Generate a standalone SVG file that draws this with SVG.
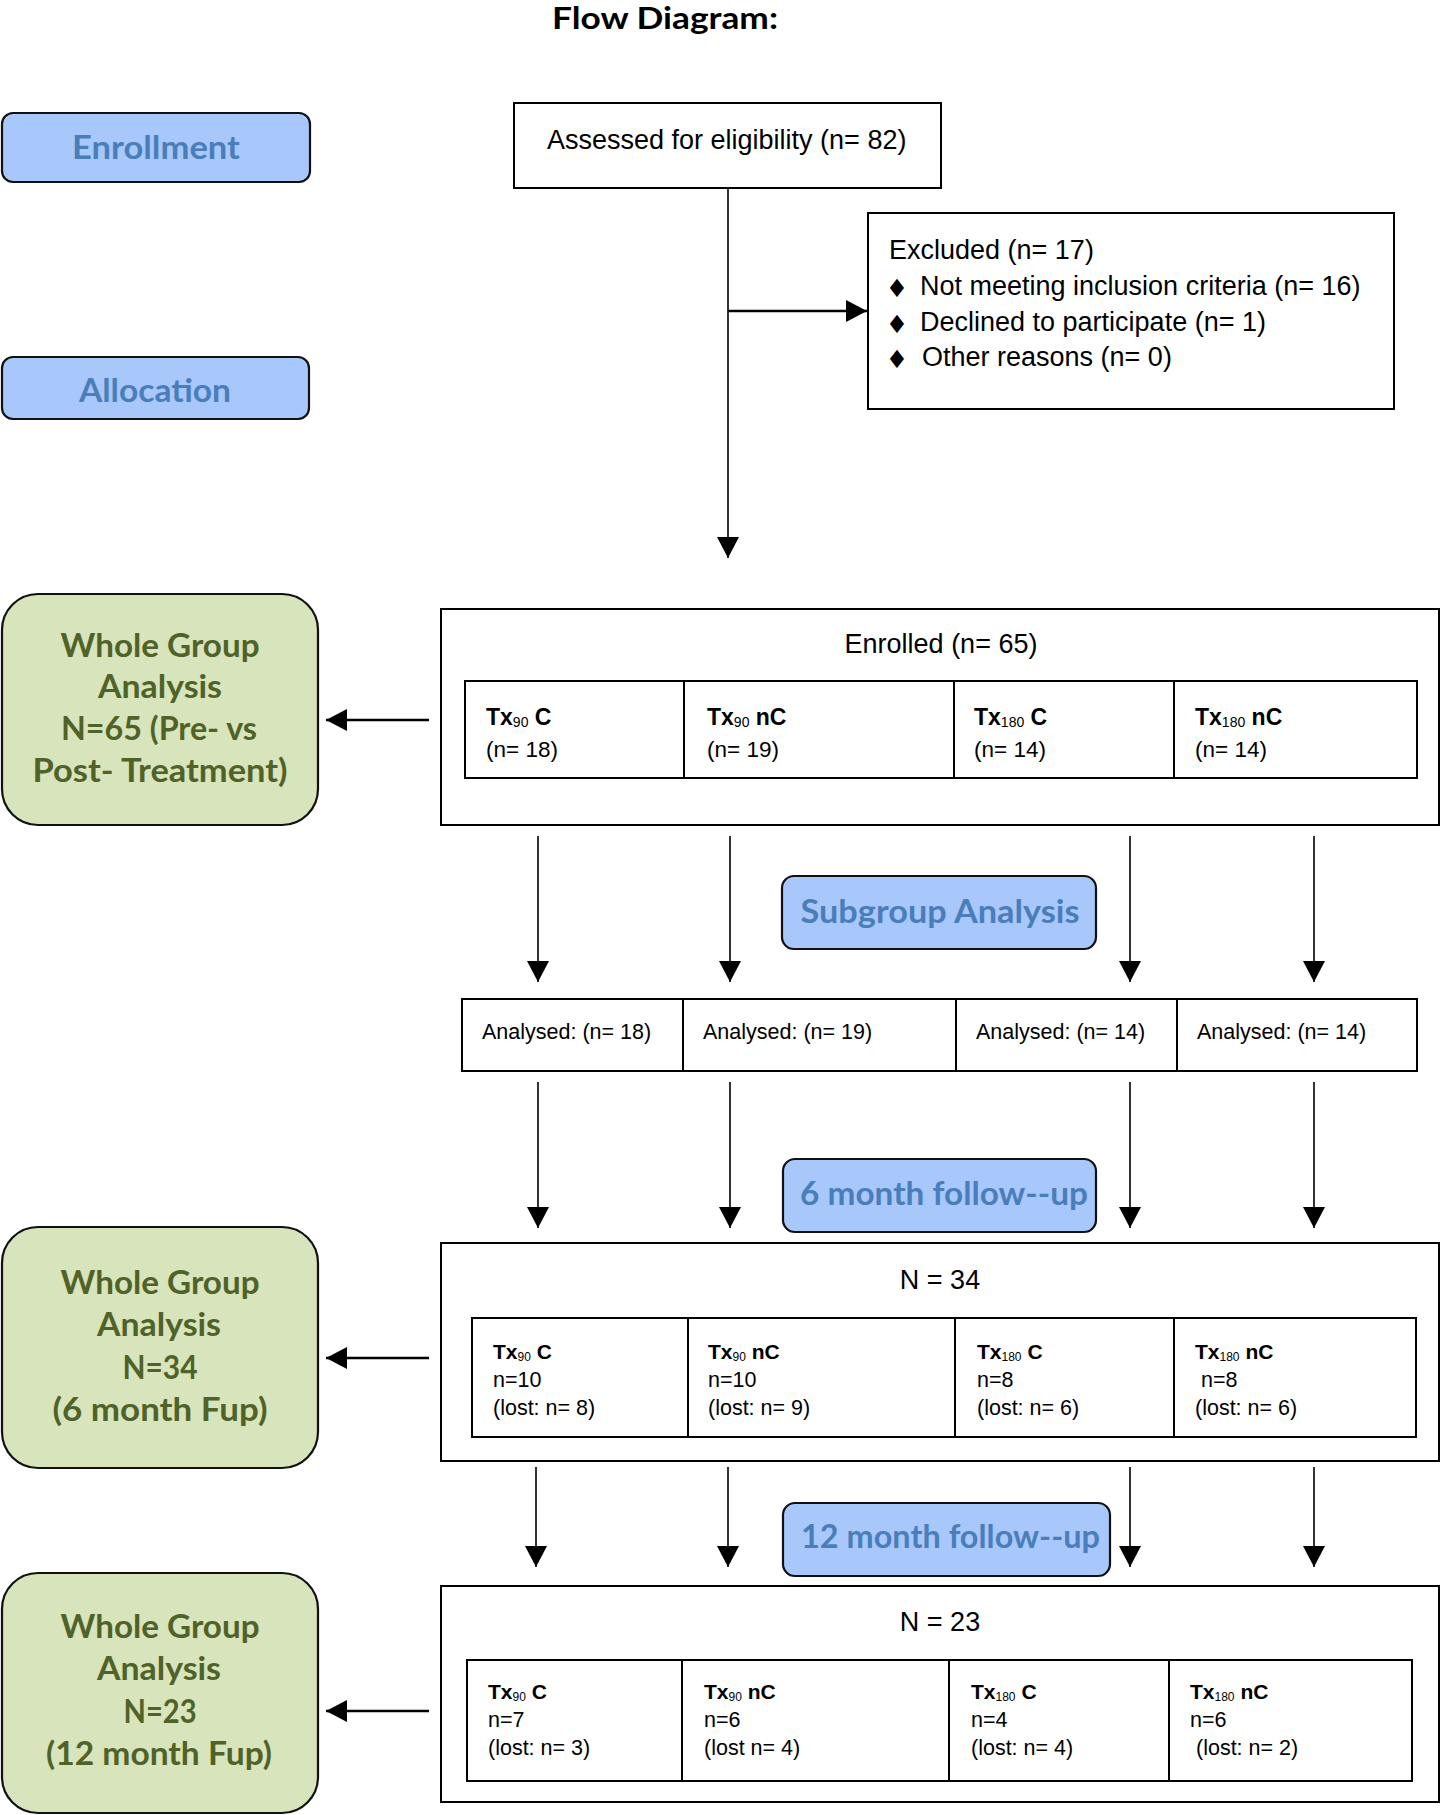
<svg xmlns="http://www.w3.org/2000/svg" width="1441" height="1815" viewBox="0 0 1441 1815">
<defs>
<marker id="ah" viewBox="0 0 21 22" refX="21" refY="11" markerWidth="21" markerHeight="22" markerUnits="userSpaceOnUse" orient="auto">
<path d="M0,0 L21,11 L0,22 z" fill="#000"/>
</marker>
<style>
.cal{font-family:Lato,"Open Sans","Noto Sans",sans-serif;font-weight:bold}
.bt{fill:#4a7ebb;font-size:32px}
.gt{fill:#4f6228;font-size:32px;text-anchor:middle}
.bbox{fill:#a8c7fa;stroke:#111;stroke-width:2.2}
.gbox{fill:#d8e4bc;stroke:#111;stroke-width:2.2}
.box{fill:#fff;stroke:#000;stroke-width:2}
.cell{fill:none;stroke:#000;stroke-width:2}
.ar{font-family:"Liberation Sans",Arial,sans-serif;fill:#000}
.big{font-size:27px}
.mid{font-size:22.5px}
.sm{font-size:21.5px}
.hd{font-weight:bold}
.sub{font-size:14px}
.dia{font-family:"DejaVu Sans",sans-serif;font-size:25px;text-anchor:middle;fill:#000}
.con{stroke:#000;stroke-width:1.6;fill:none}
.thick{stroke-width:2.6}
</style>
</defs>
<rect width="1441" height="1815" fill="#fff"/>

<text class="cal" x="665" y="29" font-size="31" fill="#000" text-anchor="middle" textLength="226" lengthAdjust="spacingAndGlyphs">Flow Diagram:</text>

<g id="enrollment">
<rect class="bbox" x="2" y="113" width="308" height="69" rx="11"/>
<text class="cal bt" x="156" y="159" text-anchor="middle" textLength="168" lengthAdjust="spacingAndGlyphs">Enrollment</text>
</g>
<g id="allocation">
<rect class="bbox" x="2" y="357" width="307" height="62" rx="11"/>
<text class="cal bt" x="155" y="402" text-anchor="middle" textLength="152" lengthAdjust="spacingAndGlyphs">Allocation</text>
</g>

<g id="assessed">
<rect class="box" x="514" y="103" width="427" height="85"/>
<text class="ar big" x="547" y="149">Assessed for eligibility (n= 82)</text>
</g>

<g id="excluded">
<rect class="box" x="868" y="213" width="526" height="196"/>
<text class="ar big" x="889" y="259">Excluded (n= 17)</text>
<text class="ar big" x="920" y="295">Not meeting inclusion criteria (n= 16)</text>
<text class="ar big" x="920" y="331">Declined to participate (n= 1)</text>
<text class="ar big" x="922" y="366">Other reasons (n= 0)</text>
<text class="dia" x="897" y="297">♦</text>
<text class="dia" x="897" y="333">♦</text>
<text class="dia" x="897" y="368">♦</text>
</g>

<g id="wg1">
<rect class="gbox" x="2" y="594" width="316" height="231" rx="36"/>
<text class="cal gt" x="160" y="657" textLength="199" lengthAdjust="spacingAndGlyphs">Whole Group</text>
<text class="cal gt" x="160" y="698" textLength="124" lengthAdjust="spacingAndGlyphs">Analysis</text>
<text class="cal gt" x="159" y="740" textLength="196" lengthAdjust="spacingAndGlyphs">N=65 (Pre- vs</text>
<text class="cal gt" x="160" y="782" textLength="255" lengthAdjust="spacingAndGlyphs">Post- Treatment)</text>
</g>

<g id="enrolled">
<rect class="box" x="441" y="609" width="998" height="216"/>
<text class="ar big" x="941" y="653" text-anchor="middle">Enrolled (n= 65)</text>
<rect class="cell" x="465" y="681" width="952" height="97"/>
<line class="cell" x1="684" y1="681" x2="684" y2="778"/>
<line class="cell" x1="954" y1="681" x2="954" y2="778"/>
<line class="cell" x1="1174" y1="681" x2="1174" y2="778"/>
<text class="ar hd" font-size="23" x="486" y="725">Tx<tspan class="sub" font-weight="normal" dy="2">90</tspan><tspan dy="-2"> C</tspan></text>
<text class="ar mid" x="486" y="757">(n= 18)</text>
<text class="ar hd" font-size="23" x="707" y="725">Tx<tspan class="sub" font-weight="normal" dy="2">90</tspan><tspan dy="-2"> nC</tspan></text>
<text class="ar mid" x="707" y="757">(n= 19)</text>
<text class="ar hd" font-size="23" x="974" y="725">Tx<tspan class="sub" font-weight="normal" dy="2">180</tspan><tspan dy="-2"> C</tspan></text>
<text class="ar mid" x="974" y="757">(n= 14)</text>
<text class="ar hd" font-size="23" x="1195" y="725">Tx<tspan class="sub" font-weight="normal" dy="2">180</tspan><tspan dy="-2"> nC</tspan></text>
<text class="ar mid" x="1195" y="757">(n= 14)</text>
</g>

<g id="subgroup">
<rect class="bbox" x="782" y="876" width="314" height="73" rx="12"/>
<text class="cal bt" x="940" y="923" text-anchor="middle" textLength="279" lengthAdjust="spacingAndGlyphs">Subgroup Analysis</text>
</g>

<g id="analysed">
<rect class="cell" x="462" y="999" width="955" height="72" fill="#fff"/>
<line class="cell" x1="683" y1="999" x2="683" y2="1071"/>
<line class="cell" x1="956" y1="999" x2="956" y2="1071"/>
<line class="cell" x1="1177" y1="999" x2="1177" y2="1071"/>
<text class="ar sm" x="482" y="1039">Analysed: (n= 18)</text>
<text class="ar sm" x="703" y="1039">Analysed: (n= 19)</text>
<text class="ar sm" x="976" y="1039">Analysed: (n= 14)</text>
<text class="ar sm" x="1197" y="1039">Analysed: (n= 14)</text>
</g>

<g id="fup6">
<rect class="bbox" x="783" y="1159" width="313" height="73" rx="12"/>
<text class="cal bt" x="800" y="1205" textLength="288" lengthAdjust="spacingAndGlyphs">6 month follow--up</text>
</g>

<g id="wg2">
<rect class="gbox" x="2" y="1227" width="316" height="241" rx="36"/>
<text class="cal gt" x="160" y="1294" textLength="199" lengthAdjust="spacingAndGlyphs">Whole Group</text>
<text class="cal gt" x="159" y="1336" textLength="124" lengthAdjust="spacingAndGlyphs">Analysis</text>
<text class="cal gt" x="160" y="1379" textLength="75" lengthAdjust="spacingAndGlyphs">N=34</text>
<text class="cal gt" x="160" y="1421" textLength="215" lengthAdjust="spacingAndGlyphs">(6 month Fup)</text>
</g>

<g id="n34">
<rect class="box" x="441" y="1243" width="998" height="218"/>
<text class="ar big" x="940" y="1289" text-anchor="middle">N = 34</text>
<rect class="cell" x="472" y="1318" width="944" height="119"/>
<line class="cell" x1="688" y1="1318" x2="688" y2="1437"/>
<line class="cell" x1="955" y1="1318" x2="955" y2="1437"/>
<line class="cell" x1="1174" y1="1318" x2="1174" y2="1437"/>
<text class="ar hd" font-size="21" x="493" y="1359">Tx<tspan font-size="12" font-weight="normal" dy="2">90</tspan><tspan dy="-2"> C</tspan></text>
<text class="ar sm" x="493" y="1387">n=10</text>
<text class="ar sm" x="493" y="1415">(lost: n= 8)</text>
<text class="ar hd" font-size="21" x="708" y="1359">Tx<tspan font-size="12" font-weight="normal" dy="2">90</tspan><tspan dy="-2"> nC</tspan></text>
<text class="ar sm" x="708" y="1387">n=10</text>
<text class="ar sm" x="708" y="1415">(lost: n= 9)</text>
<text class="ar hd" font-size="21" x="977" y="1359">Tx<tspan font-size="12" font-weight="normal" dy="2">180</tspan><tspan dy="-2"> C</tspan></text>
<text class="ar sm" x="977" y="1387">n=8</text>
<text class="ar sm" x="977" y="1415">(lost: n= 6)</text>
<text class="ar hd" font-size="21" x="1195" y="1359">Tx<tspan font-size="12" font-weight="normal" dy="2">180</tspan><tspan dy="-2"> nC</tspan></text>
<text class="ar sm" x="1201" y="1387">n=8</text>
<text class="ar sm" x="1195" y="1415">(lost: n= 6)</text>
</g>

<g id="fup12">
<rect class="bbox" x="783" y="1503" width="327" height="73" rx="12"/>
<text class="cal bt" x="801" y="1548" textLength="299" lengthAdjust="spacingAndGlyphs">12 month follow--up</text>
</g>

<g id="wg3">
<rect class="gbox" x="2" y="1573" width="316" height="240" rx="36"/>
<text class="cal gt" x="160" y="1638" textLength="199" lengthAdjust="spacingAndGlyphs">Whole Group</text>
<text class="cal gt" x="159" y="1680" textLength="124" lengthAdjust="spacingAndGlyphs">Analysis</text>
<text class="cal gt" x="160" y="1723" textLength="73" lengthAdjust="spacingAndGlyphs">N=23</text>
<text class="cal gt" x="159" y="1765" textLength="226" lengthAdjust="spacingAndGlyphs">(12 month Fup)</text>
</g>

<g id="n23">
<rect class="box" x="441" y="1586" width="998" height="216"/>
<text class="ar big" x="940" y="1631" text-anchor="middle">N = 23</text>
<rect class="cell" x="467" y="1660" width="945" height="121"/>
<line class="cell" x1="682" y1="1660" x2="682" y2="1781"/>
<line class="cell" x1="949" y1="1660" x2="949" y2="1781"/>
<line class="cell" x1="1169" y1="1660" x2="1169" y2="1781"/>
<text class="ar hd" font-size="21" x="488" y="1699">Tx<tspan font-size="12" font-weight="normal" dy="2">90</tspan><tspan dy="-2"> C</tspan></text>
<text class="ar sm" x="488" y="1727">n=7</text>
<text class="ar sm" x="488" y="1755">(lost: n= 3)</text>
<text class="ar hd" font-size="21" x="704" y="1699">Tx<tspan font-size="12" font-weight="normal" dy="2">90</tspan><tspan dy="-2"> nC</tspan></text>
<text class="ar sm" x="704" y="1727">n=6</text>
<text class="ar sm" x="704" y="1755">(lost n= 4)</text>
<text class="ar hd" font-size="21" x="971" y="1699">Tx<tspan font-size="12" font-weight="normal" dy="2">180</tspan><tspan dy="-2"> C</tspan></text>
<text class="ar sm" x="971" y="1727">n=4</text>
<text class="ar sm" x="971" y="1755">(lost: n= 4)</text>
<text class="ar hd" font-size="21" x="1190" y="1699">Tx<tspan font-size="12" font-weight="normal" dy="2">180</tspan><tspan dy="-2"> nC</tspan></text>
<text class="ar sm" x="1190" y="1727">n=6</text>
<text class="ar sm" x="1196" y="1755">(lost: n= 2)</text>
</g>

<g id="connectors">
<line class="con" x1="728" y1="189" x2="728" y2="558" marker-end="url(#ah)"/>
<line class="con thick" x1="728" y1="311" x2="867" y2="311" marker-end="url(#ah)"/>
<line class="con thick" x1="429" y1="720" x2="326" y2="720" marker-end="url(#ah)"/>
<line class="con thick" x1="429" y1="1358" x2="326" y2="1358" marker-end="url(#ah)"/>
<line class="con thick" x1="429" y1="1711" x2="326" y2="1711" marker-end="url(#ah)"/>
<line class="con" x1="538" y1="836" x2="538" y2="982" marker-end="url(#ah)"/>
<line class="con" x1="730" y1="836" x2="730" y2="982" marker-end="url(#ah)"/>
<line class="con" x1="1130" y1="836" x2="1130" y2="982" marker-end="url(#ah)"/>
<line class="con" x1="1314" y1="836" x2="1314" y2="982" marker-end="url(#ah)"/>
<line class="con" x1="538" y1="1082" x2="538" y2="1228" marker-end="url(#ah)"/>
<line class="con" x1="730" y1="1082" x2="730" y2="1228" marker-end="url(#ah)"/>
<line class="con" x1="1130" y1="1082" x2="1130" y2="1228" marker-end="url(#ah)"/>
<line class="con" x1="1314" y1="1082" x2="1314" y2="1228" marker-end="url(#ah)"/>
<line class="con" x1="536" y1="1467" x2="536" y2="1567" marker-end="url(#ah)"/>
<line class="con" x1="728" y1="1467" x2="728" y2="1567" marker-end="url(#ah)"/>
<line class="con" x1="1130" y1="1467" x2="1130" y2="1567" marker-end="url(#ah)"/>
<line class="con" x1="1314" y1="1467" x2="1314" y2="1567" marker-end="url(#ah)"/>
</g>
</svg>
